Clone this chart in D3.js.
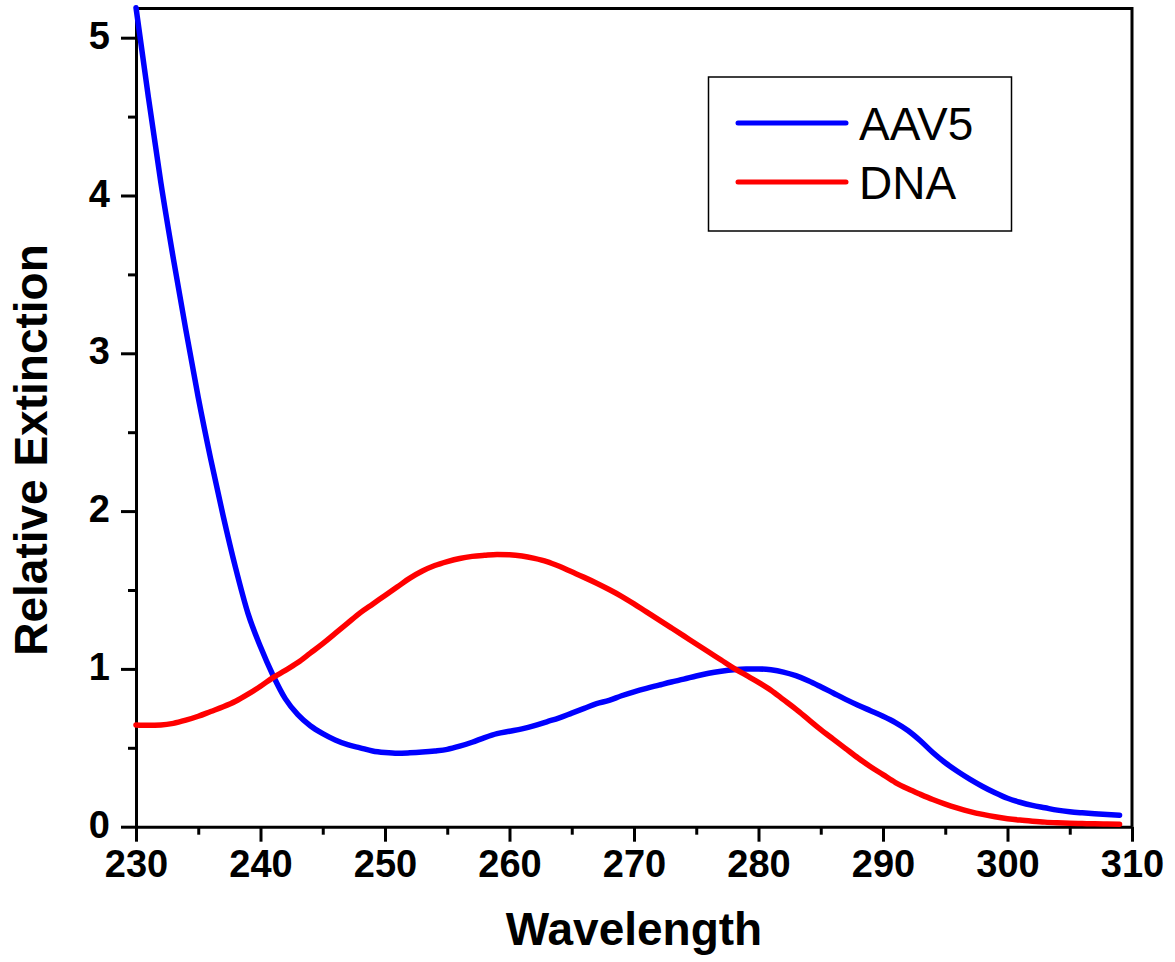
<!DOCTYPE html>
<html>
<head>
<meta charset="utf-8">
<script src="https://cdn.jsdelivr.net/npm/d3@7"></script>
<style>
  body { margin: 0; background: #fff; }
  text { font-family: "Liberation Sans", Arial, sans-serif; }
</style>
</head>
<body>
<div id="chart"></div>
<script>
// wavelength grid 230..309
var wavelengths = d3.range(230, 310);

// AAV5 relative extinction
var aav5 = [
  5.19, 4.62, 4.08, 3.60, 3.15, 2.72, 2.33, 1.97, 1.64, 1.35,
  1.14, 0.96, 0.81, 0.71, 0.64, 0.59, 0.55, 0.52, 0.50, 0.48,
  0.47, 0.465, 0.468, 0.473, 0.48, 0.49, 0.51, 0.535, 0.565, 0.59,
  0.605, 0.62, 0.64, 0.665, 0.69, 0.72, 0.75, 0.78, 0.80, 0.83,
  0.855, 0.877, 0.897, 0.917, 0.935, 0.955, 0.972, 0.985, 0.995, 1.0,
  1.0, 0.994, 0.98, 0.957, 0.925, 0.887, 0.847, 0.807, 0.77, 0.735,
  0.70, 0.66, 0.61, 0.545, 0.47, 0.405, 0.35, 0.30, 0.255, 0.215,
  0.18, 0.155, 0.135, 0.12, 0.105, 0.095, 0.088, 0.082, 0.077, 0.073
];

// DNA relative extinction
var dna = [
  0.645, 0.643, 0.645, 0.655, 0.675, 0.70, 0.73, 0.76, 0.795, 0.84,
  0.89, 0.945, 0.99, 1.04, 1.10, 1.16, 1.225, 1.29, 1.355, 1.41,
  1.465, 1.52, 1.575, 1.62, 1.655, 1.68, 1.70, 1.713, 1.72, 1.725,
  1.723, 1.715, 1.70, 1.68, 1.65, 1.615, 1.58, 1.543, 1.503, 1.46,
  1.412, 1.361, 1.311, 1.26, 1.209, 1.158, 1.107, 1.056, 1.005, 0.96,
  0.915, 0.865, 0.805, 0.745, 0.68, 0.615, 0.555, 0.495, 0.435, 0.38,
  0.33, 0.28, 0.24, 0.205, 0.172, 0.143, 0.118, 0.096, 0.078, 0.063,
  0.051, 0.042, 0.035, 0.029, 0.025, 0.022, 0.02, 0.018, 0.017, 0.016
];

var seriesNames = ["AAV5", "DNA"];
var seriesColors = ["#0000ff", "#ff0000"];
var xTicks = [230, 240, 250, 260, 270, 280, 290, 300, 310];
var yTicks = [0, 1, 2, 3, 4, 5];

var W = 1175, H = 962;
var margin = {top: 8.5, right: 43, bottom: 135.3, left: 136},
    width = W - margin.left - margin.right,
    height = H - margin.top - margin.bottom;

var svg = d3.select("#chart").append("svg")
    .attr("width", W)
    .attr("height", H);

var g = svg.append("g")
    .attr("transform", "translate(" + margin.left + "," + margin.top + ")");

var x = d3.scaleLinear().domain([230, 310]).range([0, width]);
var y = d3.scaleLinear().domain([0, 5.185]).range([height, 0]);

// frame (top and right)
g.append("path")
    .attr("d", "M0,0H" + width + "V" + height)
    .attr("fill", "none")
    .attr("stroke", "#000")
    .attr("stroke-width", 3);

// minor ticks
var xAxisMinor = d3.axisBottom(x).tickValues(d3.range(235, 310, 10)).tickSize(8).tickFormat("");
var yAxisMinor = d3.axisLeft(y).tickValues(d3.range(0.5, 5.1, 1)).tickSize(8).tickFormat("");

g.append("g").attr("transform", "translate(0," + height + ")").call(xAxisMinor)
    .call(a => a.select(".domain").remove())
    .selectAll("line").attr("stroke-width", 3);
g.append("g").call(yAxisMinor)
    .call(a => a.select(".domain").remove())
    .selectAll("line").attr("stroke-width", 3);

// major axes
var xAxis = g.append("g")
    .attr("transform", "translate(0," + height + ")")
    .call(d3.axisBottom(x).tickValues(xTicks).tickSize(15).tickSizeOuter(0).tickPadding(8));
var yAxis = g.append("g")
    .call(d3.axisLeft(y).tickValues(yTicks).tickFormat(d3.format("d")).tickSize(15).tickSizeOuter(0).tickPadding(11));

[xAxis, yAxis].forEach(function(a) {
    a.select(".domain").attr("stroke-width", 3);
    a.selectAll(".tick line").attr("stroke-width", 3);
    a.selectAll(".tick text")
        .style("font-family", "'Liberation Sans', Arial, sans-serif")
        .style("font-size", "38px")
        .style("font-weight", "bold")
        .attr("fill", "#000");
});
yAxis.selectAll(".tick text").attr("dy", "0.28em");
xAxis.selectAll(".tick text").attr("dy", "0.72em");

// curves
var line = d3.line()
    .x((d, i) => x(wavelengths[i]))
    .y(d => y(d))
    .curve(d3.curveMonotoneX);

[aav5, dna].forEach(function(vals, i) {
    g.append("path")
        .datum(vals)
        .attr("d", line)
        .attr("fill", "none")
        .attr("stroke", seriesColors[i])
        .attr("stroke-width", 5.5)
        .attr("stroke-linejoin", "round")
        .attr("stroke-linecap", "round");
});

// axis titles
svg.append("text")
    .attr("x", margin.left + width / 2)
    .attr("y", 945)
    .attr("text-anchor", "middle")
    .style("font-size", "46px")
    .style("font-weight", "bold")
    .text("Wavelength");

svg.append("text")
    .attr("transform", "translate(47,450) rotate(-90)")
    .attr("text-anchor", "middle")
    .style("font-size", "46px")
    .style("font-weight", "bold")
    .text("Relative Extinction");

// legend
var legend = svg.append("g");
legend.append("rect")
    .attr("x", 708.5).attr("y", 77)
    .attr("width", 303).attr("height", 154)
    .attr("fill", "#fff")
    .attr("stroke", "#000")
    .attr("stroke-width", 1.5);

seriesNames.forEach(function(name, i) {
    var ly = 123 + i * 59;
    legend.append("line")
        .attr("x1", 738).attr("x2", 846)
        .attr("y1", ly).attr("y2", ly)
        .attr("stroke", seriesColors[i])
        .attr("stroke-width", 5)
        .attr("stroke-linecap", "round");
    legend.append("text")
        .attr("x", 859)
        .attr("y", ly + 17)
        .style("font-size", "46px")
        .text(name);
});
</script>
</body>
</html>
